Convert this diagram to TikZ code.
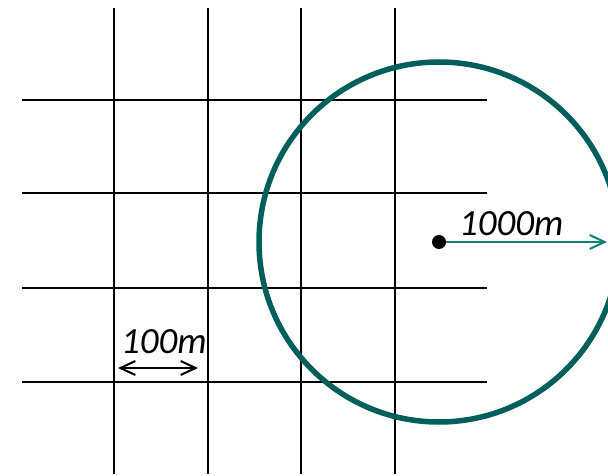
\documentclass[tikz,border=0pt]{standalone}
\usepackage{fontspec}
\setmainfont{Carlito}
\usetikzlibrary{positioning,arrows.meta}
\definecolor{ringteal}{HTML}{005F5A}
\definecolor{arrteal}{HTML}{11807A}

\begin{document}
\begin{tikzpicture}[x=1pt, y=-1pt,
  font=\fontsize{37}{44}\selectfont\itshape,
  grid/.style={draw, line width=2.2pt, black},
  ring/.style={draw=ringteal, line width=5.5pt},
  centre/.style={circle, fill=black, inner sep=0pt, minimum size=14pt},
  lbl/.style={anchor=base west, inner sep=0pt},
  arr/.style={{Straight Barb[length=15pt,width=14pt]}-{Straight Barb[length=15pt,width=14pt]}, line width=2pt},
  rad/.style={-{Straight Barb[length=15pt,width=14pt]}, line width=2pt, draw=arrteal}]
\useasboundingbox (0,0) rectangle (608,476);
\clip (0,0) rectangle (608,476);
% street grid
\foreach \x in {114,208,301,395}
  \draw[grid] (\x,8) -- (\x,474);
\foreach \y in {100,193,288,382}
  \draw[grid] (22,\y) -- (487,\y);
% range circle
\node[centre] (c) at (439,242) {};
\draw[ring] (c.center) circle (180);
\coordinate (edge) at (607,242);
\draw[rad] (c) -- (edge);
\node[lbl] (lbig) at (459,235) {1000m};
% block size
\coordinate (b1) at (118,368);
\coordinate (b2) at (198,368);
\draw[arr] (b1) -- (b2);
\node[lbl] (lsmall) at (121,353) {100m};
\end{tikzpicture}
\end{document}
